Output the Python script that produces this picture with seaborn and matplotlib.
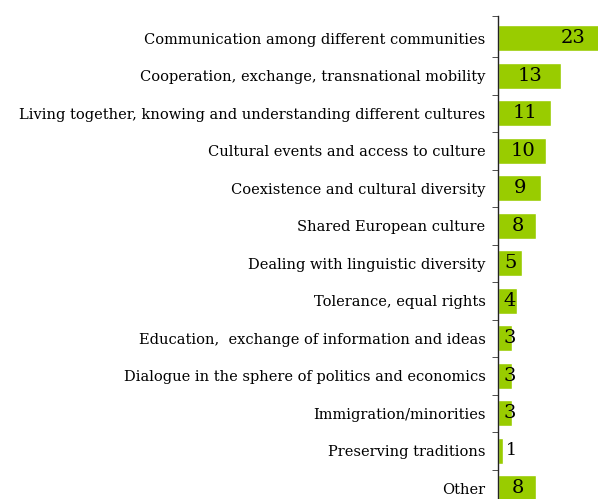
import matplotlib
matplotlib.use("Agg")
import matplotlib.pyplot as plt
import seaborn as sns
import pandas as pd

categories = [
    "Communication among different communities",
    "Cooperation, exchange, transnational mobility",
    "Living together, knowing and understanding different cultures",
    "Cultural events and access to culture",
    "Coexistence and cultural diversity",
    "Shared European culture",
    "Dealing with linguistic diversity",
    "Tolerance, equal rights",
    "Education,  exchange of information and ideas",
    "Dialogue in the sphere of politics and economics",
    "Immigration/minorities",
    "Preserving traditions",
    "Other",
]
values = [23, 13, 11, 10, 9, 8, 5, 4, 3, 3, 3, 1, 8]

df = pd.DataFrame({"cat": categories, "val": values})

sns.set_style("white")
plt.rcParams["font.family"] = ["DejaVu Serif"]

fig = plt.figure(figsize=(5.98, 4.99), dpi=100)
axis_top_px, first_row_px, row_px = 16, 19.5, 37.5
n = len(categories)
bottom_px = first_row_px + n * row_px
extra = (first_row_px - axis_top_px) / row_px
ax = fig.add_axes([498 / 598, 1 - bottom_px / 499, 1 - 498 / 598,
                   (bottom_px - axis_top_px) / 499])

sns.barplot(data=df, x="val", y="cat", orient="h", color="#99CC00",
            saturation=1, width=0.7, ax=ax)
xmax = 20.8
ax.set_xlim(0, xmax)
ax.set_ylim(n - 0.5, -0.5 - extra)

for i, v in enumerate(values):
    if v <= 1:
        ax.text(v + 0.6, i, str(v), ha="left", va="center", fontsize=12.5, color="black")
    elif v > xmax:
        ax.text(xmax - 5.2, i, str(v), ha="center", va="center", fontsize=14, color="black")
    else:
        x = max(v / 2 + 0.1, 2.5)
        ax.text(x, i, str(v), ha="center", va="center", fontsize=14, color="black")

for s in ["top", "right", "bottom"]:
    ax.spines[s].set_visible(False)
ax.spines["left"].set_color("#222222")
ax.spines["left"].set_linewidth(1)
ax.set_xticks([])
ax.set_yticks([i for i in range(n)])
ax.set_yticklabels(categories, fontsize=10.55, color="black")
ax.tick_params(axis="y", length=0, pad=9)
ax.set_yticks([-0.5 - extra] + [i + 0.5 for i in range(n)], minor=True)
ax.tick_params(axis="y", which="minor", length=4, color="#333333", left=True)
ax.set_xlabel("")
ax.set_ylabel("")

fig.savefig("out.png", dpi=100)
